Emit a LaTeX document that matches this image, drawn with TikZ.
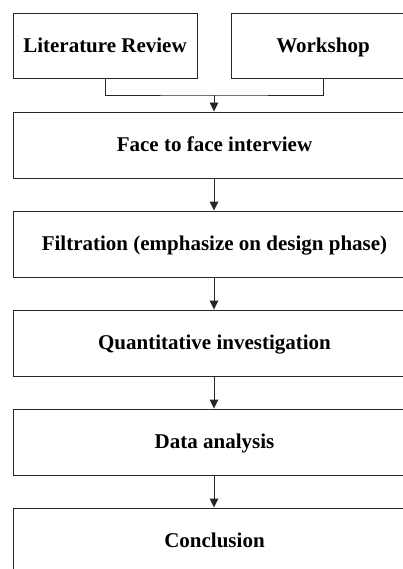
\documentclass[tikz,border=0pt]{standalone}
\usepackage{fontspec}
\setmainfont{Liberation Serif}
\usetikzlibrary{arrows.meta}
\begin{document}
\begin{tikzpicture}[x=1pt,y=-1pt,
  box/.style={draw=black!85, line width=0.9pt, rectangle, inner sep=0pt,
    text height=13.9pt, text depth=0pt,
    font=\fontsize{21}{24}\selectfont\bfseries},
  wide/.style={box, minimum width=403pt, minimum height=66pt},
  half/.style={box, minimum width=184pt, minimum height=65pt},
  arr/.style={draw=black!85, line width=0.9pt, -{Triangle[width=8.5pt,length=9pt]}},
  link/.style={draw=black!85, line width=0.9pt}]
\useasboundingbox (0,0) rectangle (403,569);
\clip (0,0) rectangle (403,569);
\node[half] (lr) at (105,45.5) {Literature Review};
\node[half] (ws) at (323,45.5) {Workshop};
\node[wide] (face) at (214.5,145) {Face to face interview};
\node[wide] (filt) at (214.5,244) {Filtration (emphasize on design phase)};
\node[wide] (quant) at (214.5,343) {Quantitative investigation};
\node[wide] (data) at (214.5,442) {Data analysis};
\node[wide] (conc) at (214.5,541) {Conclusion};
\coordinate (j) at (214,95);
\draw[link] (lr.south) |- (j) -| (ws.south);
\draw[arr] (j) -- (face.north -| j);
\draw[arr] (face.south -| j) -- (filt.north -| j);
\draw[arr] (filt.south -| j) -- (quant.north -| j);
\draw[arr] (quant.south -| j) -- (data.north -| j);
\draw[arr] (data.south -| j) -- (conc.north -| j);
\end{tikzpicture}
\end{document}
